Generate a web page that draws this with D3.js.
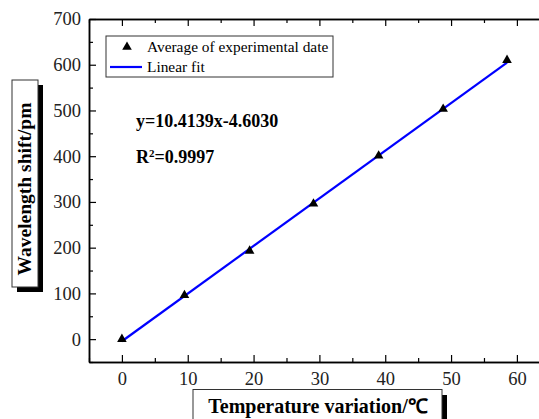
<!DOCTYPE html>
<html>
<head>
<meta charset="utf-8">
<script src="https://cdn.jsdelivr.net/npm/d3@7"></script>
<style>
  body { margin: 0; background: #fff; }
  svg { display: block; }
</style>
</head>
<body>
<div id="chart"></div>
<script>
// Data
const tempValues = [0, 9.5, 19.4, 29.1, 39.0, 48.8, 58.5];
const shiftValues = [0, 96, 193, 296, 401, 503, 610];
const fitSlope = 10.4139;
const fitIntercept = -4.6030;
const xMajorTicks = [0, 10, 20, 30, 40, 50, 60];
const xMinorTicks = [-5, 5, 15, 25, 35, 45, 55, 65];
const yMajorTicks = [0, 100, 200, 300, 400, 500, 600, 700];
const yMinorTicks = [-50, 50, 150, 250, 350, 450, 550, 650];

const SERIF = "'Liberation Serif'";
const W = 539, H = 419;
const margin = { top: 19, left: 89, bottom: 57 };
const plotBottom = H - margin.bottom;

const svg = d3.select('#chart').append('svg')
    .attr('width', W)
    .attr('height', H)
    .attr('font-family', SERIF);

// Scales
const x = d3.scaleLinear().domain([-5, 65]).range([margin.left, margin.left + 70 * 6.583]);
const y = d3.scaleLinear().domain([-50, 700]).range([plotBottom, margin.top]);

// Axes
function styleAxis(g) {
    g.attr('font-family', SERIF).attr('font-size', 18.5);
    g.select('.domain').attr('stroke', '#000').attr('stroke-width', 1.5);
    g.selectAll('.tick line').attr('stroke', '#000').attr('stroke-width', 1.2);
    g.selectAll('.tick text').attr('fill', '#222').attr('font-family', SERIF);
}

// bottom
svg.append('g')
    .attr('transform', `translate(0,${plotBottom})`)
    .call(d3.axisBottom(x).tickValues(xMajorTicks).tickSizeInner(-7).tickSizeOuter(0).tickPadding(10))
    .call(styleAxis);
svg.append('g')
    .attr('transform', `translate(0,${plotBottom})`)
    .call(d3.axisBottom(x).tickValues(xMinorTicks).tickSizeInner(-4).tickSizeOuter(0).tickFormat(''))
    .call(styleAxis);

// top (no labels)
svg.append('g')
    .attr('transform', `translate(0,${margin.top})`)
    .call(d3.axisTop(x).tickValues(xMajorTicks).tickSizeInner(-7).tickSizeOuter(0).tickFormat(''))
    .call(styleAxis);
svg.append('g')
    .attr('transform', `translate(0,${margin.top})`)
    .call(d3.axisTop(x).tickValues(xMinorTicks).tickSizeInner(-4).tickSizeOuter(0).tickFormat(''))
    .call(styleAxis);

// left
svg.append('g')
    .attr('transform', `translate(${margin.left},0)`)
    .call(d3.axisLeft(y).tickValues(yMajorTicks).tickSizeInner(-7).tickSizeOuter(0).tickPadding(8))
    .call(styleAxis);
svg.append('g')
    .attr('transform', `translate(${margin.left},0)`)
    .call(d3.axisLeft(y).tickValues(yMinorTicks).tickSizeInner(-4).tickSizeOuter(0).tickFormat(''))
    .call(styleAxis);

// Linear fit line
const fitX = [tempValues[0], tempValues[tempValues.length - 1]];
svg.append('path')
    .datum(fitX)
    .attr('fill', 'none')
    .attr('stroke', '#0000ff')
    .attr('stroke-width', 2.2)
    .attr('d', d3.line()
        .x(d => x(d))
        .y(d => y(fitSlope * d + fitIntercept)));

// Data markers
const tri = d3.symbol().type(d3.symbolTriangle).size(40);
svg.selectAll('.pt')
    .data(tempValues.map((t, i) => ({ t, s: shiftValues[i] })))
    .enter()
    .append('path')
    .attr('class', 'pt')
    .attr('d', tri)
    .attr('fill', '#000')
    .attr('transform', d => `translate(${x(d.t)},${y(d.s)})`);

// Legend
const lg = svg.append('g').attr('transform', 'translate(106,36)');
lg.append('rect')
    .attr('width', 227).attr('height', 41)
    .attr('fill', '#fff').attr('stroke', '#333').attr('stroke-width', 1);
lg.append('path')
    .attr('d', tri)
    .attr('fill', '#000')
    .attr('transform', 'translate(21,11)');
lg.append('text')
    .attr('x', 41).attr('y', 16)
    .attr('font-family', SERIF).attr('font-size', 15.4)
    .text('Average of experimental date');
lg.append('line')
    .attr('x1', 4).attr('x2', 36).attr('y1', 31).attr('y2', 31)
    .attr('stroke', '#0000ff').attr('stroke-width', 2.2);
lg.append('text')
    .attr('x', 41).attr('y', 36)
    .attr('font-family', SERIF).attr('font-size', 15.4)
    .text('Linear fit');

// Fit equation
svg.append('text')
    .attr('x', 136).attr('y', 127)
    .attr('font-family', SERIF).attr('font-size', 18).attr('font-weight', 'bold')
    .text('y=10.4139x-4.6030');
const r2 = svg.append('text')
    .attr('x', 136).attr('y', 163)
    .attr('font-family', SERIF).attr('font-size', 18).attr('font-weight', 'bold');
r2.append('tspan').text('R');
r2.append('tspan').attr('dy', -6).attr('font-size', 11).text('2');
r2.append('tspan').attr('dy', 6).text('=0.9997');

// Y axis title with shadow box
const yt = svg.append('g');
yt.append('rect').attr('x', 17).attr('y', 85).attr('width', 26).attr('height', 207).attr('fill', '#000');
yt.append('rect').attr('x', 12).attr('y', 80).attr('width', 26).attr('height', 207)
    .attr('fill', '#fff').attr('stroke', '#333').attr('stroke-width', 1);
yt.append('text')
    .attr('transform', 'translate(31,189) rotate(-90)')
    .attr('text-anchor', 'middle')
    .attr('font-family', SERIF).attr('font-size', 19.5).attr('font-weight', 'bold')
    .text('Wavelength shift/pm');

// X axis title with shadow box
const xt = svg.append('g');
xt.append('rect').attr('x', 198).attr('y', 395).attr('width', 249).attr('height', 40).attr('fill', '#000');
xt.append('rect').attr('x', 193).attr('y', 389.5).attr('width', 249).attr('height', 40)
    .attr('fill', '#fff').attr('stroke', '#333').attr('stroke-width', 1);
xt.append('text')
    .attr('x', 318).attr('y', 413)
    .attr('text-anchor', 'middle')
    .attr('font-family', SERIF).attr('font-size', 20).attr('font-weight', 'bold')
    .text('Temperature variation/℃');
</script>
</body>
</html>
